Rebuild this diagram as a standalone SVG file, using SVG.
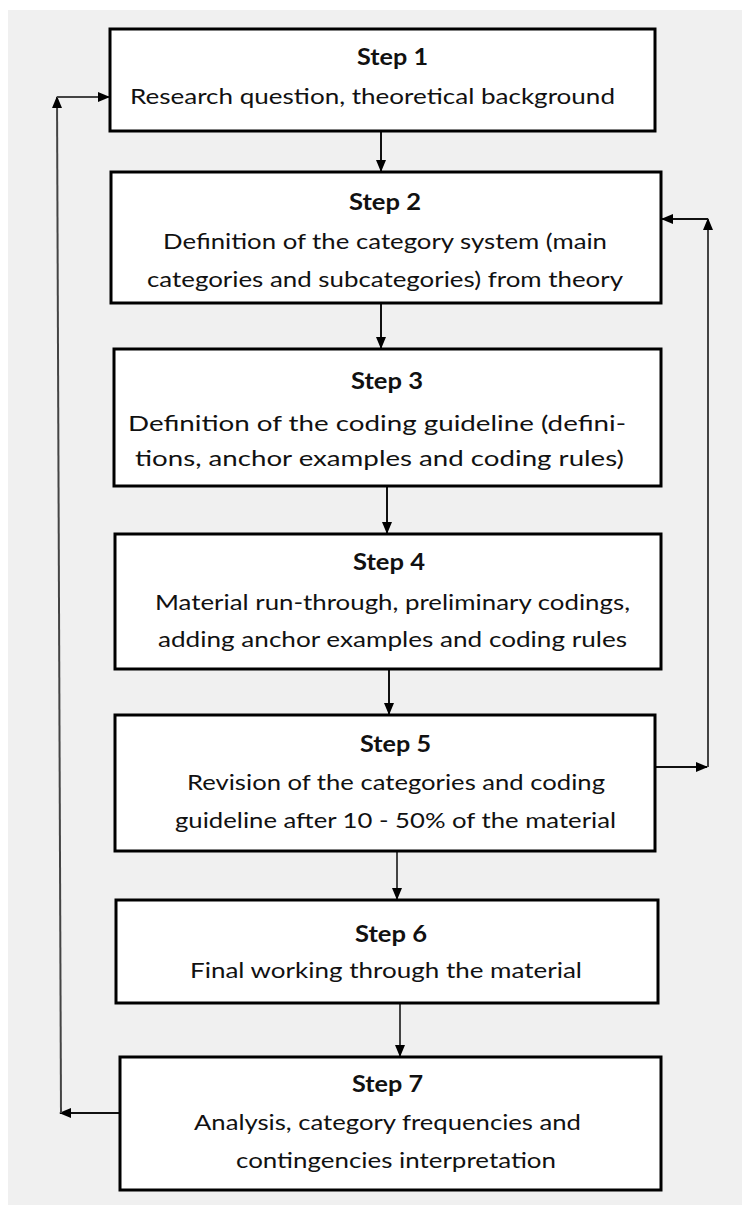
<svg xmlns="http://www.w3.org/2000/svg" width="742" height="1205" viewBox="0 0 742 1205">
<defs>
<style>
.box{fill:#ffffff;stroke:#000000;stroke-width:3}
.t{font-family:Lato,"Liberation Sans",sans-serif;font-size:22px;fill:#111111;text-anchor:start}
.h{font-family:Lato,"Liberation Sans",sans-serif;font-size:22px;font-weight:bold;fill:#111111;text-anchor:start}
.c{fill:none;stroke:#111111;stroke-width:2}
.g{fill:none;stroke:#444444;stroke-width:2}
</style>
<marker id="ah" markerWidth="12" markerHeight="10" refX="11" refY="5" orient="auto" markerUnits="userSpaceOnUse">
<path d="M0,0 L12,5 L0,10 Z" fill="#000000"/>
</marker>
</defs>
<rect x="0" y="0" width="742" height="1205" fill="#ffffff"/>
<rect x="8" y="10" width="734" height="1195" fill="#f0f0f0"/>

<g id="connectors">
<line class="c" x1="381" y1="132" x2="381" y2="171" marker-end="url(#ah)"/>
<line class="c" x1="381" y1="304" x2="381" y2="348" marker-end="url(#ah)"/>
<line class="c" x1="387" y1="487" x2="387" y2="533" marker-end="url(#ah)"/>
<line class="c" x1="389" y1="669" x2="389" y2="714" marker-end="url(#ah)"/>
<line class="g" x1="397" y1="851" x2="397" y2="899" marker-end="url(#ah)"/>
<line class="g" x1="400" y1="1004" x2="400" y2="1056" marker-end="url(#ah)"/>
<line class="c" x1="655" y1="767" x2="707" y2="767" marker-end="url(#ah)"/>
<line class="g" x1="708" y1="767" x2="708" y2="219" marker-end="url(#ah)"/>
<line class="c" x1="708" y1="219" x2="662" y2="219" marker-end="url(#ah)"/>
<line class="c" x1="120" y1="1113" x2="60" y2="1113" marker-end="url(#ah)"/>
<line class="g" x1="61" y1="1113" x2="57" y2="97" marker-end="url(#ah)"/>
<line class="g" x1="57" y1="97" x2="109" y2="97" marker-end="url(#ah)"/>
</g>

<g id="step1">
<rect class="box" x="110" y="29" width="545" height="102"/>
<text class="h" x="357" y="65" textLength="71" lengthAdjust="spacingAndGlyphs">Step 1</text>
<text class="t" x="130" y="104" textLength="485" lengthAdjust="spacingAndGlyphs">Research question, theoretical background</text>
</g>

<g id="step2">
<rect class="box" x="111" y="172" width="550" height="131"/>
<text class="h" x="349" y="210" textLength="72" lengthAdjust="spacingAndGlyphs">Step 2</text>
<text class="t" x="163" y="249" textLength="444" lengthAdjust="spacingAndGlyphs">Definition of the category system (main</text>
<text class="t" x="147" y="287" textLength="476" lengthAdjust="spacingAndGlyphs">categories and subcategories) from theory</text>
</g>

<g id="step3">
<rect class="box" x="114" y="349" width="547" height="137"/>
<text class="h" x="351" y="389" textLength="72" lengthAdjust="spacingAndGlyphs">Step 3</text>
<text class="t" x="128" y="431" textLength="498" lengthAdjust="spacingAndGlyphs">Definition of the coding guideline (defini-</text>
<text class="t" x="135" y="466" textLength="489" lengthAdjust="spacingAndGlyphs">tions, anchor examples and coding rules)</text>
</g>

<g id="step4">
<rect class="box" x="115" y="534" width="546" height="135"/>
<text class="h" x="353" y="570" textLength="72" lengthAdjust="spacingAndGlyphs">Step 4</text>
<text class="t" x="155" y="610" textLength="475" lengthAdjust="spacingAndGlyphs">Material run-through, preliminary codings,</text>
<text class="t" x="158" y="647" textLength="469" lengthAdjust="spacingAndGlyphs">adding anchor examples and coding rules</text>
</g>

<g id="step5">
<rect class="box" x="115" y="715" width="540" height="136"/>
<text class="h" x="360" y="752" textLength="71" lengthAdjust="spacingAndGlyphs">Step 5</text>
<text class="t" x="187" y="790" textLength="418" lengthAdjust="spacingAndGlyphs">Revision of the categories and coding</text>
<text class="t" x="175" y="828" textLength="441" lengthAdjust="spacingAndGlyphs">guideline after 10 - 50% of the material</text>
</g>

<g id="step6">
<rect class="box" x="116" y="900" width="542" height="103"/>
<text class="h" x="355" y="942" textLength="72" lengthAdjust="spacingAndGlyphs">Step 6</text>
<text class="t" x="190" y="978" textLength="392" lengthAdjust="spacingAndGlyphs">Final working through the material</text>
</g>

<g id="step7">
<rect class="box" x="120" y="1057" width="541" height="133"/>
<text class="h" x="352" y="1092" textLength="71" lengthAdjust="spacingAndGlyphs">Step 7</text>
<text class="t" x="194" y="1130" textLength="387" lengthAdjust="spacingAndGlyphs">Analysis, category frequencies and</text>
<text class="t" x="236" y="1168" textLength="320" lengthAdjust="spacingAndGlyphs">contingencies interpretation</text>
</g>
</svg>
